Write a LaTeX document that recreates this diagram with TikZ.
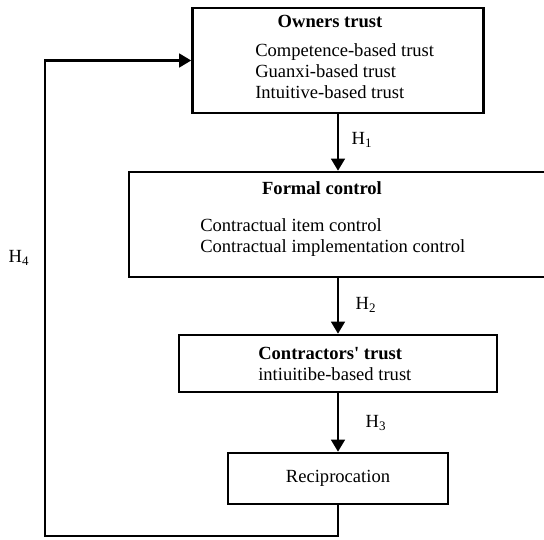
\documentclass[tikz,border=0pt]{standalone}
\usepackage{fontspec}
\setmainfont{Liberation Serif}
\usetikzlibrary{arrows.meta}
\begin{document}
\begin{tikzpicture}[
		box/.style={draw, line width=1.8pt, inner sep=0pt},
		flow/.style={line width=1.6pt, -{Triangle[length=3mm,width=3.4mm]}},
		txt/.style={inner sep=0pt, align=left, font=\fontsize{13.2}{14.9}\selectfont},
		ttl/.style={inner sep=0pt, font=\fontsize{13.2}{14.9}\selectfont\bfseries}
	]
				\useasboundingbox (0,0) rectangle (13.6,-13.475);
				% boxes
				\node[box, minimum width=7.275cm, minimum height=2.625cm] (owners) at (8.45,-1.5125) {};
				\node[box, minimum width=10.45cm, minimum height=2.625cm] (formal) at (8.45,-5.6125) {};
				\node[box, minimum width=7.95cm, minimum height=1.425cm] (contr) at (8.45,-9.0875) {};
				\node[box, minimum width=5.5cm, minimum height=1.275cm] (recip) at (8.45,-11.9625) {};
				% texts
				\node[ttl] (ownerstitle) at (8.25,-0.525) {Owners trust};
				\node[txt, anchor=west] (owneritems) at (6.375,-1.775) {Competence-based trust\\Guanxi-based trust\\Intuitive-based trust};
				\node[ttl] (formaltitle) at (8.05,-4.7) {Formal control};
				\node[txt, anchor=west] (formalitems) at (5.0,-5.94) {Contractual item control\\Contractual implementation control};
				\node[txt, anchor=west] (contritems) at (6.45,-9.09) {\textbf{Contractors\textquotesingle{} trust}\\intiuitibe-based trust};
				\node[txt] (reciptext) at (recip) {Reciprocation};
				% hypotheses
				\node[txt] (h1) at (9.05,-3.5) {H\textsubscript{1}};
				\node[txt] (h2) at (9.15,-7.625) {H\textsubscript{2}};
				\node[txt] (h3) at (9.4,-10.575) {H\textsubscript{3}};
				\node[txt] (h4) at (0.475,-6.45) {H\textsubscript{4}};
				% arrows
				\draw[flow] (owners.south) -- (formal.north);
				\draw[flow] (formal.south) -- (contr.north);
				\draw[flow] (contr.south) -- (recip.north);
				\coordinate (loopbl) at (1.125,-13.4);
				\draw[flow] (recip.south) |- (loopbl) |- (owners.west);
\end{tikzpicture}
\end{document}
